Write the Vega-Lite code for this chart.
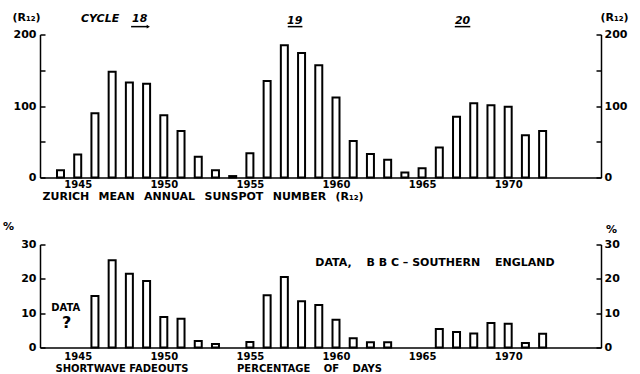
{
  "$schema": "https://vega.github.io/schema/vega-lite/v6.json",
  "padding": {"left": 2, "top": 11.5, "right": 11, "bottom": 1},
  "background": "white",
  "spacing": 67,
  "bounds": "flush",
  "datasets": {
    "sunspots": [
      {"year": 1944, "r12": 10}, {"year": 1945, "r12": 32}, {"year": 1946, "r12": 90},
      {"year": 1947, "r12": 148}, {"year": 1948, "r12": 133}, {"year": 1949, "r12": 131},
      {"year": 1950, "r12": 87}, {"year": 1951, "r12": 65}, {"year": 1952, "r12": 29},
      {"year": 1953, "r12": 10}, {"year": 1954, "r12": 2}, {"year": 1955, "r12": 34},
      {"year": 1956, "r12": 135}, {"year": 1957, "r12": 185}, {"year": 1958, "r12": 174},
      {"year": 1959, "r12": 157}, {"year": 1960, "r12": 112}, {"year": 1961, "r12": 51},
      {"year": 1962, "r12": 33}, {"year": 1963, "r12": 25}, {"year": 1964, "r12": 7},
      {"year": 1965, "r12": 13}, {"year": 1966, "r12": 42}, {"year": 1967, "r12": 85},
      {"year": 1968, "r12": 104}, {"year": 1969, "r12": 101}, {"year": 1970, "r12": 99},
      {"year": 1971, "r12": 59}, {"year": 1972, "r12": 65}
    ],
    "fadeouts": [
      {"year": 1946, "pct": 15}, {"year": 1947, "pct": 25.4}, {"year": 1948, "pct": 21.5},
      {"year": 1949, "pct": 19.4}, {"year": 1950, "pct": 8.9}, {"year": 1951, "pct": 8.4},
      {"year": 1952, "pct": 1.9}, {"year": 1953, "pct": 1.0}, {"year": 1955, "pct": 1.6},
      {"year": 1956, "pct": 15.2}, {"year": 1957, "pct": 20.5}, {"year": 1958, "pct": 13.5},
      {"year": 1959, "pct": 12.4}, {"year": 1960, "pct": 8.1}, {"year": 1961, "pct": 2.7},
      {"year": 1962, "pct": 1.5}, {"year": 1963, "pct": 1.5}, {"year": 1966, "pct": 5.4},
      {"year": 1967, "pct": 4.5}, {"year": 1968, "pct": 4.1}, {"year": 1969, "pct": 7.1},
      {"year": 1970, "pct": 6.9}, {"year": 1971, "pct": 1.3}, {"year": 1972, "pct": 4.0}
    ],
    "cycles": [
      {"year": 1946.3, "v": 222, "label": "CYCLE"},
      {"year": 1948.6, "v": 222, "label": "18"},
      {"year": 1957.6, "v": 219, "label": "19"},
      {"year": 1967.35, "v": 219, "label": "20"}
    ],
    "underlines": [
      {"x1": 1948.1, "x2": 1949.05, "v": 211},
      {"x1": 1957.2, "x2": 1958.05, "v": 211},
      {"x1": 1966.9, "x2": 1967.8, "v": 211}
    ],
    "arrow": [
      {"x": 1949.1, "v": 211}
    ],
    "notes": [
      {"year": 1965.75, "v": 24.5, "label": "DATA,\u2003 B B C – SOUTHERN\u2003 ENGLAND", "size": 11},
      {"year": 1944.3, "v": 11.4, "label": "DATA", "size": 10},
      {"year": 1944.35, "v": 7.0, "label": "?", "size": 16}
    ]
  },
  "vconcat": [
    {
      "width": 561,
      "height": 143,
      "layer": [
        {
          "data": {"name": "sunspots"},
          "mark": {"type": "bar", "width": 7, "fill": "white", "stroke": "black", "strokeWidth": 2},
          "encoding": {
            "x": {
              "field": "year", "type": "quantitative",
              "scale": {"domain": [1943.1, 1975.1], "nice": false, "zero": false},
              "axis": {
                "values": [1945, 1950, 1955, 1960, 1965, 1970], "format": "d",
                "ticks": false, "labelPadding": 2, "labelFontSize": 10,
                "domainWidth": 1.5,
                "title": "ZURICH\u2002 MEAN\u2002 ANNUAL\u2002 SUNSPOT\u2002 NUMBER\u2002 (R₁₂)",
                "titleAnchor": "start", "titleAlign": "left", "titleBaseline": "middle",
                "titleX": 2, "titleY": 19, "titleFontSize": 11
              }
            },
            "y": {
              "field": "r12", "type": "quantitative",
              "scale": {"domain": [0, 200], "nice": false},
              "axis": {
                "orient": "left", "values": [0, 50, 100, 150, 200],
                "labelExpr": "datum.value % 100 == 0 ? datum.label : ''",
                "tickSize": -5, "tickWidth": 1.5, "domainWidth": 1.5,
                "labelPadding": 9, "labelFontSize": 11,
                "title": "(R₁₂)", "titleAngle": 0, "titleAlign": "center", "titleBaseline": "middle",
                "titleX": -14, "titleY": -17, "titleFontSize": 11
              }
            }
          }
        },
        {
          "data": {"name": "cycles"},
          "mark": {"type": "text", "fontSize": 11, "fontStyle": "italic", "clip": false},
          "encoding": {
            "x": {"field": "year", "type": "quantitative"},
            "y": {
              "field": "v", "type": "quantitative",
              "scale": {"domain": [0, 200], "nice": false},
              "axis": {
                "orient": "right", "values": [0, 50, 100, 150, 200],
                "labelExpr": "datum.value % 100 == 0 ? datum.label : ''",
                "tickSize": -5, "tickWidth": 1.5, "domainWidth": 1.5,
                "labelPadding": 8, "labelFontSize": 11,
                "title": "(R₁₂)", "titleAngle": 0, "titleAlign": "center", "titleBaseline": "middle",
                "titleX": 13, "titleY": -17, "titleFontSize": 11
              }
            },
            "text": {"field": "label"}
          }
        },
        {
          "data": {"name": "underlines"},
          "mark": {"type": "rule", "strokeWidth": 1.5, "color": "black", "clip": false},
          "encoding": {
            "x": {"field": "x1", "type": "quantitative"},
            "x2": {"field": "x2"},
            "y": {"field": "v", "type": "quantitative", "scale": {"domain": [0, 200], "nice": false}, "axis": null}
          }
        },
        {
          "data": {"name": "arrow"},
          "mark": {"type": "point", "shape": "triangle-right", "size": 14, "filled": true, "color": "black", "opacity": 1, "clip": false},
          "encoding": {
            "x": {"field": "x", "type": "quantitative"},
            "y": {"field": "v", "type": "quantitative", "scale": {"domain": [0, 200], "nice": false}, "axis": null}
          }
        }
      ],
      "resolve": {"scale": {"y": "independent"}}
    },
    {
      "width": 561,
      "height": 103,
      "layer": [
        {
          "data": {"name": "fadeouts"},
          "mark": {"type": "bar", "width": 7, "fill": "white", "stroke": "black", "strokeWidth": 2},
          "encoding": {
            "x": {
              "field": "year", "type": "quantitative",
              "scale": {"domain": [1943.1, 1975.1], "nice": false, "zero": false},
              "axis": {
                "values": [1945, 1950, 1955, 1960, 1965, 1970], "format": "d",
                "ticks": false, "labelPadding": 4, "labelFontSize": 10,
                "domainWidth": 1.5,
                "title": "SHORTWAVE FADEOUTS\u2003\u2003\u2003\u2003\u2002 PERCENTAGE\u2003 OF\u2003 DAYS",
                "titleAnchor": "start", "titleAlign": "left", "titleBaseline": "middle",
                "titleX": 15, "titleY": 21, "titleFontSize": 10
              }
            },
            "y": {
              "field": "pct", "type": "quantitative",
              "scale": {"domain": [0, 30], "nice": false},
              "axis": {
                "orient": "left", "values": [0, 10, 20, 30],
                "tickSize": -5, "tickWidth": 1.5, "domainWidth": 1.5,
                "labelPadding": 9, "labelFontSize": 11,
                "title": "%", "titleAngle": 0, "titleAlign": "center", "titleBaseline": "middle",
                "titleX": -32, "titleY": -18, "titleFontSize": 11
              }
            }
          }
        },
        {
          "data": {"name": "notes"},
          "mark": {"type": "text", "clip": false},
          "encoding": {
            "x": {"field": "year", "type": "quantitative"},
            "y": {
              "field": "v", "type": "quantitative",
              "scale": {"domain": [0, 30], "nice": false},
              "axis": {
                "orient": "right", "values": [0, 10, 20, 30],
                "tickSize": -5, "tickWidth": 1.5, "domainWidth": 1.5,
                "labelPadding": 8, "labelFontSize": 11,
                "title": "%", "titleAngle": 0, "titleAlign": "center", "titleBaseline": "middle",
                "titleX": 10, "titleY": -15, "titleFontSize": 11
              }
            },
            "text": {"field": "label"},
            "size": {"field": "size", "type": "quantitative", "scale": null}
          }
        }
      ],
      "resolve": {"scale": {"y": "independent"}}
    }
  ],
  "config": {
    "view": {"stroke": null},
    "axis": {
      "grid": false,
      "labelFont": "DejaVu Sans", "labelFontWeight": "bold", "labelColor": "black",
      "titleFont": "DejaVu Sans", "titleFontWeight": "bold", "titleColor": "black",
      "domainColor": "black", "tickColor": "black"
    },
    "text": {"font": "DejaVu Sans", "fontWeight": "bold", "color": "black"}
  }
}
